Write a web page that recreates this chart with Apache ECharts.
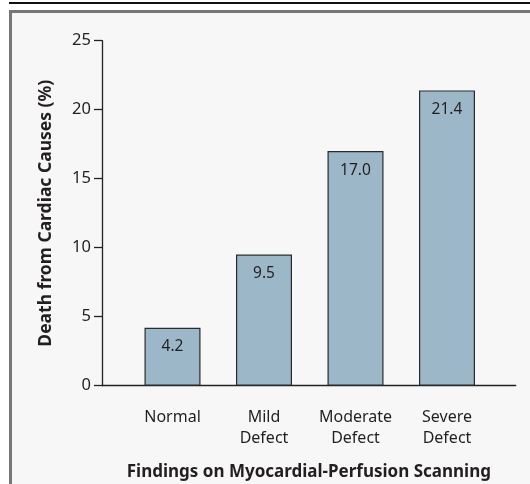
<!DOCTYPE html>
<html>
<head>
<meta charset="utf-8">
<script src="https://cdn.jsdelivr.net/npm/echarts@6/dist/echarts.min.js"></script>
<style>
  html, body { margin: 0; padding: 0; background: #fff; }
  #topRule { position: absolute; left: 9px; top: 2px; width: 521px; height: 2px; background: #111; }
  #frame { position: absolute; left: 9px; top: 10px; width: 530px; height: 490px;
           border-left: 3px solid #777; border-top: 3px solid #777; background: #f7f7f7; }
  #main { position: absolute; left: 0; top: 0; width: 530px; height: 484px; }
</style>
</head>
<body>
<div id="topRule"></div>
<div id="frame"></div>
<div id="main"></div>
<script>
// 类别 / 数值
const categories = ['Normal', 'Mild\nDefect', 'Moderate\nDefect', 'Severe\nDefect'];
const deathPct = [4.2, 9.5, 17.0, 21.4];
const yTicks = [0, 5, 10, 15, 20, 25];

const font = '"Noto Sans", "Open Sans", sans-serif';
const textColor = '#231f20';

const chart = echarts.init(document.getElementById('main'));

chart.setOption({
	backgroundColor: 'transparent',
	animation: false,
	grid: [
		// bars
		{ left: 126.75, right: 37.25, top: 40.7, bottom: 98.3, outerBoundsMode: 'none' },
		// full-width baseline
		{ left: 102, right: 14.3, top: 40.7, bottom: 98.3, outerBoundsMode: 'none' }
	],
	xAxis: [{
		type: 'category',
		gridIndex: 0,
		data: categories,
		axisLine: { show: false },
		axisTick: { show: false },
		axisLabel: {
			interval: 0,
			margin: 21,
			fontFamily: font,
			fontSize: 16,
			lineHeight: 21,
			color: textColor
		}
	}, {
		type: 'value',
		gridIndex: 1,
		min: 0,
		max: 1,
		axisLine: { show: true, onZero: false, lineStyle: { color: '#222', width: 1.3 } },
		axisTick: { show: false },
		axisLabel: { show: false },
		splitLine: { show: false },
		name: 'Findings on Myocardial-Perfusion Scanning',
		nameLocation: 'middle',
		nameGap: 78,
		nameTextStyle: {
			fontFamily: font,
			fontSize: 17,
			fontWeight: 'bold',
			color: textColor
		}
	}],
	yAxis: [{
		type: 'value',
		gridIndex: 0,
		min: yTicks[0],
		max: yTicks[yTicks.length - 1],
		interval: 5,
		offset: 24.75,
		axisLine: { show: true, lineStyle: { color: '#222', width: 1.3 } },
		axisTick: { show: true, inside: false, length: 8, lineStyle: { color: '#222', width: 1.3 } },
		axisLabel: {
			margin: 11,
			fontFamily: font,
			fontSize: 16.5,
			color: textColor
		},
		splitLine: { show: false },
		name: 'Death from Cardiac Causes (%)',
		nameLocation: 'middle',
		nameGap: 47,
		nameTextStyle: {
			fontFamily: font,
			fontSize: 17.5,
			fontWeight: 'bold',
			color: textColor
		}
	}, {
		type: 'value',
		gridIndex: 1,
		min: 0,
		max: 1,
		show: false
	}],
	series: [{
		type: 'bar',
		xAxisIndex: 0,
		yAxisIndex: 0,
		data: deathPct,
		barWidth: 56,
		itemStyle: {
			color: '#9cb7c8',
			borderColor: '#2b2b2b',
			borderWidth: 1.2
		},
		label: {
			show: true,
			position: 'insideTop',
			distance: 10,
			fontFamily: font,
			fontSize: 15.5,
			lineHeight: 18,
			color: textColor,
			formatter: p => p.value.toFixed(1)
		}
	}]
});
</script>
</body>
</html>
